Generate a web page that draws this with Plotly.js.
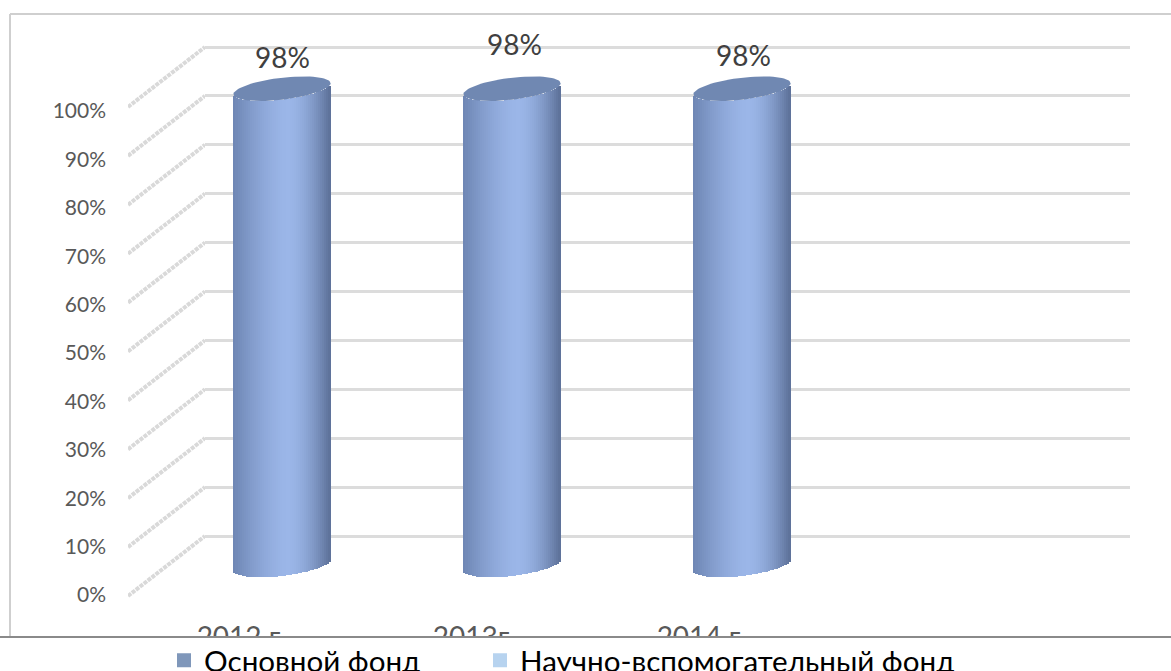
<!DOCTYPE html>
<html><head><meta charset="utf-8">
<script src="https://cdn.plot.ly/plotly-3.0.0.min.js"></script>
<style>html,body{margin:0;padding:0;background:#fff}#c{width:1171px;height:671px}</style>
</head><body><div id="c"></div>
<script>
const categories = ["2012 г.", "2013г", "2014 г."];
const mainFund = [98, 98, 98];
const labelText = ["98%", "98%", "98%"];
const labelLift = [2, 15, 4];
const labelShift = [0, 2, 1];
const sciFund = [null, null, null];
const ticks = [0,10,20,30,40,50,60,70,80,90,100];
const seriesNames = ["Основной фонд", "Научно-вспомогательный фонд"];

const W = 1171, H = 671;
const font = "Lato, 'Open Sans', 'Noto Sans', sans-serif";
const unitX = 230, xRange = [(205-282)/unitX, (1130-282)/unitX];
const backPx = 4.89, frontPx = 4.84, midPx = 4.86;
function yDom(y0, lo, hi, px){ return [ (H-(y0 - lo*px))/H, (H-(y0 - hi*px))/H ]; }
function xDom(px0, px1){ return [px0/W, px1/W]; }

const traces = [];
const drop = (596-536)/backPx;
ticks.forEach(v => traces.push({type:'scatter', mode:'lines', x:[0,1], y:[v-drop, v], xaxis:'x3', yaxis:'y4',
  line:{color:'#d9d9d9', width:4, dash:'4px,1px'}, showlegend:false, hoverinfo:'skip'}));

const halfW = 48.5/unitX, capB = 11/midPx, capTilt = 5.5/midPx, nStrips = 48;
function arc(u, sign){ return capTilt*u + sign*capB*Math.sqrt(Math.max(0,1-u*u)); }
function shade(u){
  const c0 = 0.12;
  const d = u > c0 ? (u-c0)/(1-c0) : (c0-u)/(1+c0);
  const t = Math.min(1, Math.pow(d, u > c0 ? 1.7 : 1.5));
  const a=[155,182,232], b= u > c0 ? [92,112,152] : [110,134,180];
  return 'rgb('+a.map((c,i)=>Math.round(c+(b[i]-c)*t)).join(',')+')';
}
const sx=[], sb=[], sy=[], sc=[], sw=[];
mainFund.forEach((v,i)=>{
  for(let k=0;k<nStrips;k++){
    const u = -1 + (k+0.5)*2/nStrips;
    sx.push(i + u*halfW); sb.push(arc(u,-1)); sy.push(v); sc.push(shade(u)); sw.push(2*halfW/nStrips*1.04);
  }
});
traces.push({type:'bar', x:sx, y:sy, base:sb, width:sw, marker:{color:sc, line:{width:0}}, yaxis:'y3', showlegend:false, hoverinfo:'skip', cliponaxis:false});
mainFund.forEach((v,i)=>{
  const cx=[], cy=[];
  for(let a=0;a<=72;a++){ const t=a/72*2*Math.PI; const u=Math.cos(t);
    cx.push(i+u*halfW); cy.push(v + capTilt*u + capB*Math.sin(t)); }
  traces.push({type:'scatter', mode:'lines', x:cx, y:cy, fill:'toself', fillcolor:'#7088b2', line:{width:0,color:'#7088b2'}, yaxis:'y3', showlegend:false, hoverinfo:'skip', cliponaxis:false});
});
traces.push({type:'scatter', mode:'markers', x:[null], y:[null], name:seriesNames[0], legend:'legend', marker:{symbol:'square', size:14, color:'#7f97ba'}});
traces.push({type:'scatter', mode:'markers', x:categories.map((c,i)=>i), y:sciFund, name:seriesNames[1], legend:'legend2', marker:{symbol:'square', size:14, color:'#b7d3ef'}});
traces.push({type:'scatter', mode:'markers', x:[null], y:[null], yaxis:'y2', xaxis:'x2', showlegend:false, hoverinfo:'skip'});

const legendBase = {orientation:'h', xanchor:'left', yanchor:'top', y:1-634.5/H, font:{family:font,size:29.6,color:'#000'}, bgcolor:'rgba(0,0,0,0)'};
const layout = {
  width:W, height:H, margin:{l:0,r:0,t:0,b:0,autoexpand:false}, paper_bgcolor:'#fff', plot_bgcolor:'rgba(0,0,0,0)',
  bargap:0, showlegend:true, barmode:'overlay',
  legend:Object.assign({x:164/W}, legendBase),
  legend2:Object.assign({x:480/W}, legendBase),
  xaxis:{domain:xDom(205,1130), range:xRange, showgrid:false, zeroline:false, showticklabels:false, ticks:'', anchor:'y'},
  yaxis:{domain:yDom(536,-5,105,backPx), range:[-5,105], tickvals:ticks, showticklabels:false, ticks:'', showgrid:true, gridcolor:'#dcdcdc', gridwidth:3, zeroline:false, anchor:'x', showline:false},
  xaxis2:{domain:xDom(164,1089), range:xRange, anchor:'free', position:1-618/H, tickvals:categories.map((c,i)=>i), ticktext:categories, showgrid:false, zeroline:false, ticks:'', tickfont:{family:font,size:28,color:'#595959'}},
  yaxis2:{domain:yDom(595,0,100,frontPx), range:[0,100], anchor:'free', position:106/W, side:'left', tickvals:ticks, ticktext:ticks.map(t=>t+'%'), showgrid:false, zeroline:false, ticks:'', tickfont:{family:font,size:21,color:'#595959'}},
  yaxis3:{domain:yDom(565,-5,110,midPx), range:[-5,110], anchor:'x', visible:false, showgrid:false, zeroline:false},
  xaxis3:{domain:xDom(128,205), range:[0,1], anchor:'y4', visible:false},
  yaxis4:{domain:yDom(536,-20,105,backPx), range:[-20,105], anchor:'x3', visible:false, showgrid:false, zeroline:false},
  annotations: mainFund.map((v,i)=>({xref:'x', yref:'y3', x:i, y:v, xshift:labelShift[i], yshift:labelLift[i]+(capB*midPx), yanchor:'bottom', showarrow:false, text:labelText[i], font:{family:font,size:28,color:'#404040'}})),
  shapes:[
    {type:'rect', xref:'paper', yref:'paper', x0:0, x1:1, y0:0, y1:1-637/H, fillcolor:'#fff', line:{width:0}, layer:'above'},
    {type:'line', xref:'paper', yref:'paper', x0:10/W, x1:1, y0:1-14/H, y1:1-14/H, line:{color:'#cfcfcf',width:2}, layer:'above'},
    {type:'line', xref:'paper', yref:'paper', x0:10/W, x1:10/W, y0:1-14/H, y1:1-637/H, line:{color:'#cfcfcf',width:2}, layer:'above'},
    {type:'line', xref:'paper', yref:'paper', x0:0, x1:1, y0:1-637/H, y1:1-637/H, line:{color:'#8a8a8a',width:2}, layer:'above'}
  ]
};
Plotly.newPlot('c', traces, layout, {displayModeBar:false, staticPlot:true});
</script></body></html>
